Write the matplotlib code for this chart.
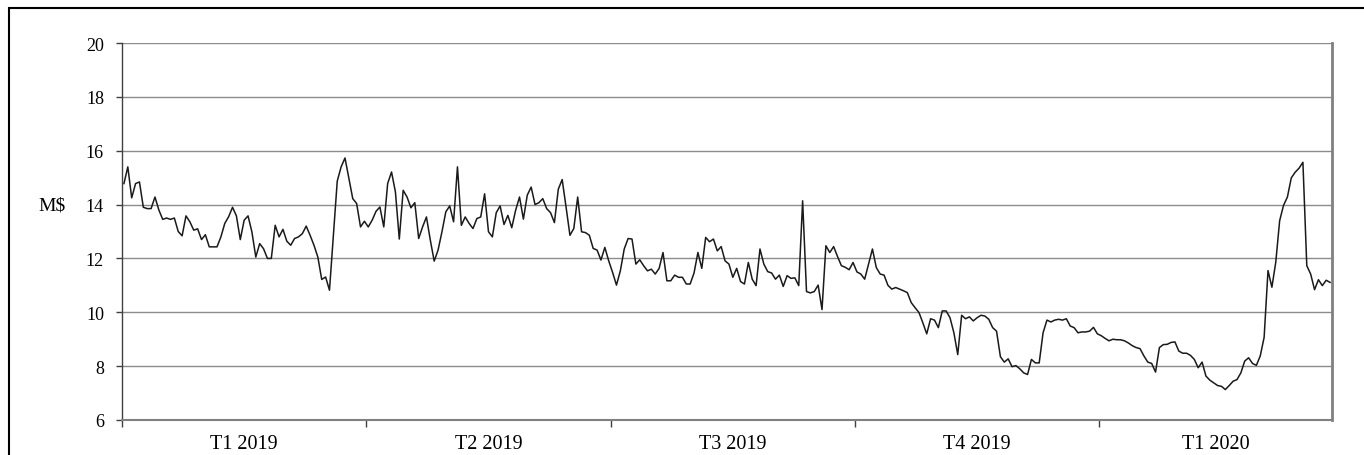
import numpy as np
import matplotlib
matplotlib.use("Agg")
import matplotlib.pyplot as plt
from matplotlib.patches import Rectangle

# daily values (M$), one list per quarter
q1_2019 = [14.78, 15.4, 14.25, 14.78, 14.84, 13.9, 13.85, 13.85, 14.28, 13.8,
           13.45, 13.5, 13.45, 13.5, 13.0, 12.84, 13.58, 13.36, 13.05, 13.1,
           12.7, 12.88, 12.43, 12.43, 12.43, 12.8, 13.3, 13.55, 13.9, 13.58,
           12.7, 13.42, 13.58, 12.98, 12.05, 12.55, 12.36, 12.0, 12.0, 13.23,
           12.8, 13.08, 12.64, 12.49, 12.74, 12.8, 12.92, 13.2, 12.86, 12.49,
           12.05, 11.22, 11.31, 10.82, 12.86, 14.87, 15.4, 15.73, 14.97, 14.22,
           14.04, 13.17, 13.38]
q2_2019 = [13.17, 13.42, 13.75, 13.91, 13.17, 14.78, 15.21, 14.47, 12.72, 14.53,
           14.28, 13.88, 14.07, 12.74, 13.17, 13.54, 12.68, 11.9, 12.31, 12.99,
           13.73, 13.95, 13.36, 15.4, 13.23, 13.54, 13.3, 13.11, 13.48, 13.54,
           14.4, 12.99, 12.8, 13.7, 13.95, 13.26, 13.6, 13.14, 13.79, 14.28,
           13.46, 14.35, 14.65, 14.0, 14.07, 14.22, 13.85, 13.7, 13.33, 14.57,
           14.93, 13.91, 12.86, 13.11, 14.28, 12.99, 12.96, 12.86, 12.37, 12.31,
           11.94, 12.41, 11.91]
q3_2019 = [11.48, 11.01, 11.54, 12.35, 12.74, 12.72, 11.79, 11.95, 11.73, 11.54,
           11.6, 11.42, 11.63, 12.22, 11.17, 11.17, 11.38, 11.3, 11.3, 11.05,
           11.05, 11.46, 12.22, 11.63, 12.78, 12.62, 12.72, 12.28, 12.44, 11.91,
           11.79, 11.3, 11.63, 11.14, 11.05, 11.85, 11.23, 10.99, 12.35, 11.79,
           11.51, 11.46, 11.23, 11.38, 10.96, 11.36, 11.26, 11.28, 10.99, 14.14,
           10.77, 10.72, 10.77, 11.01, 10.1, 12.47, 12.22, 12.44, 12.07, 11.73,
           11.67, 11.58, 11.85]
q4_2019 = [11.5, 11.42, 11.23, 11.79, 12.35, 11.66, 11.42, 11.38, 11.0, 10.86,
           10.92, 10.86, 10.8, 10.73, 10.36, 10.17, 9.99, 9.61, 9.2, 9.76,
           9.71, 9.43, 10.05, 10.05, 9.8, 9.24, 8.43, 9.89, 9.76, 9.83,
           9.68, 9.8, 9.89, 9.86, 9.74, 9.43, 9.3, 8.35, 8.15, 8.27,
           7.98, 8.02, 7.9, 7.75, 7.69, 8.25, 8.12, 8.12, 9.24, 9.71,
           9.64, 9.71, 9.74, 9.71, 9.76, 9.49, 9.43, 9.24, 9.27, 9.27,
           9.3, 9.44, 9.2]
q1_2020 = [9.13, 9.03, 8.94, 9.0, 8.98, 8.98, 8.94, 8.86, 8.76, 8.69,
           8.65, 8.38, 8.15, 8.1, 7.78, 8.69, 8.8, 8.81, 8.88, 8.9,
           8.56, 8.48, 8.48, 8.4, 8.25, 7.94, 8.15, 7.63, 7.48, 7.38,
           7.28, 7.25, 7.13, 7.28, 7.44, 7.5, 7.75, 8.19, 8.31, 8.1,
           8.03, 8.38, 9.07, 11.55, 10.93, 11.86, 13.4, 13.97, 14.28, 14.99,
           15.2, 15.35, 15.57, 11.73, 11.42, 10.84, 11.21, 10.99, 11.19, 11.11]

quarters = ["T1 2019", "T2 2019", "T3 2019", "T4 2019", "T1 2020"]
series = [q1_2019, q2_2019, q3_2019, q4_2019, q1_2020]

values = np.concatenate(series)
lengths = np.array([len(s) for s in series])
bounds = np.concatenate([[0], np.cumsum(lengths)]) - 0.5
centers = (bounds[:-1] + bounds[1:]) / 2

plt.rcParams['font.family'] = ['Liberation Serif', 'DejaVu Serif']

fig = plt.figure(figsize=(13.64, 4.56), dpi=100)
ax = fig.add_axes([122 / 1364, 35 / 456, 1210 / 1364, 377 / 456])

ax.plot(np.arange(len(values)), values, color='#1a1a1a', lw=1.1)

ax.set_xlim(-0.5, len(values) - 0.5)
ax.set_ylim(6, 20)
ax.set_yticks(range(6, 21, 2))
ax.yaxis.grid(True, color='#8c8c8c', lw=1)
ax.set_axisbelow(True)

ax.set_xticks(bounds[:-1])
ax.set_xticklabels([])
ax.set_xticks(centers, minor=True)
ax.set_xticklabels(quarters, minor=True, fontsize=14.5)
ax.tick_params(axis='x', which='major', length=5, width=1, color='#404040', direction='out')
ax.tick_params(axis='x', which='minor', length=0, pad=10)
ax.tick_params(axis='y', length=4, width=1, color='#404040', labelsize=13, pad=9)

ax.spines['top'].set_visible(False)
ax.spines['left'].set_color('#404040')
ax.spines['left'].set_linewidth(1)
ax.spines['bottom'].set_color('#808080')
ax.spines['bottom'].set_linewidth(1.5)
ax.spines['right'].set_color('#808080')
ax.spines['right'].set_linewidth(2)

fig.text(52 / 1364, 1 - 206 / 456, "M$", fontsize=14, ha='center', va='center')

# outer frame (runs off the right and bottom edges)
fig.patches.append(Rectangle((9 / 1364, -0.2), 1.2, 1.2 - 9 / 456,
                             transform=fig.transFigure, fill=False,
                             edgecolor='black', lw=1.5, clip_on=False))

fig.savefig("out.png", dpi=100)
